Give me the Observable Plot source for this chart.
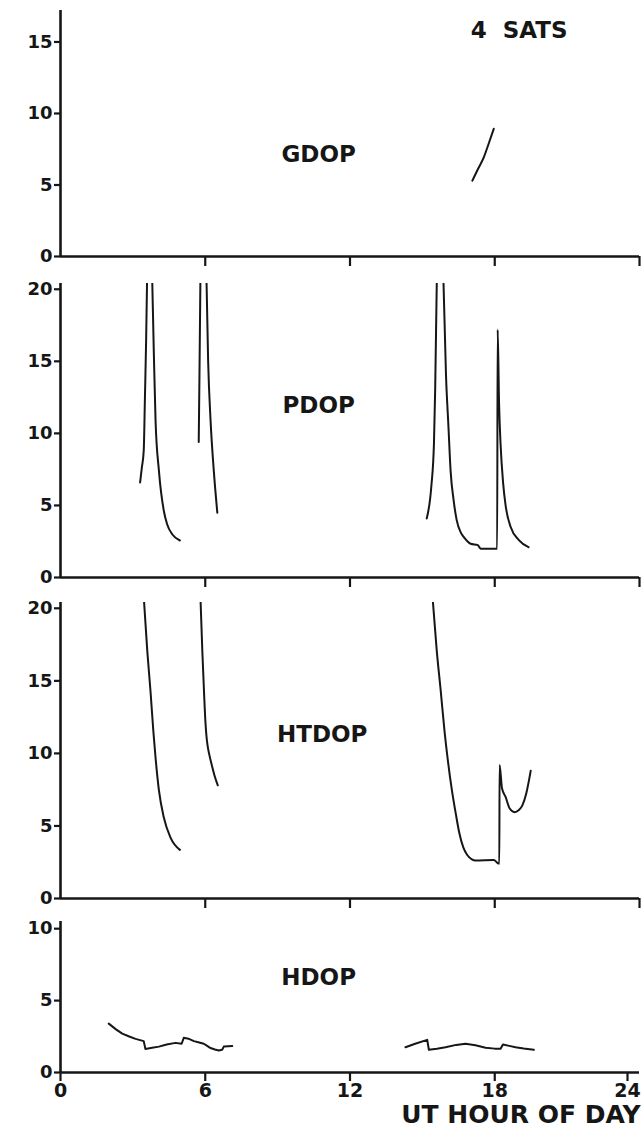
<!DOCTYPE html>
<html><head><meta charset="utf-8">
<script src="https://cdn.jsdelivr.net/npm/d3@7"></script>
<script src="https://cdn.jsdelivr.net/npm/@observablehq/plot@0.6"></script>
<style>
body{margin:0;background:#fff;}
#chart{width:642px;height:1127px;position:relative;overflow:hidden;background:#fff;}
#chart svg{display:block;}
</style></head><body><div id="chart"></div>
<script>
// ---- data (hours UT, DOP values); NaN separates pieces of a curve ----
const xTickHours = [0, 6, 12, 18, 24];

const gdopHour  = [17.07, 17.3, 17.55, 17.75, 17.96];
const gdopValue = [5.3, 6.1, 6.95, 7.9, 8.93];

const pdopHour  = [3.30,3.37,3.45,3.50,3.55,3.59, NaN,
                   3.80,3.87,3.94,4.08,4.28,4.42,4.63,4.95, NaN,
                   5.73,5.76,5.80, NaN,
                   6.05,6.12,6.22,6.35,6.50, NaN,
                   15.18,15.37,15.48,15.53,15.60, NaN,
                   15.87,15.98,16.08,16.17,16.30,16.42,16.60,16.72,17.00,17.30,17.36,17.42,18.10,18.12,18.18,18.24,18.35,18.45,18.66,19.00,19.40];
const pdopValue = [6.6,7.6,8.8,12.5,16.5,20.8, NaN,
                   20.8,15.5,10.9,7.4,4.65,3.7,3.0,2.57, NaN,
                   9.4,14.0,20.8, NaN,
                   20.8,15.0,10.9,7.5,4.5, NaN,
                   4.1,6.3,9.3,13.0,20.8, NaN,
                   20.8,14.0,10.5,7.4,5.3,4.0,3.1,2.8,2.34,2.25,2.1,2.0,2.0,17.2,12.0,9.3,6.5,5.0,3.5,2.6,2.1];

const htdopHour  = [3.45,3.60,3.73,3.85,3.94,4.08,4.28,4.56,4.95, NaN,
                    5.80,5.88,5.95,6.01,6.05,6.10,6.17,6.27,6.38,6.52, NaN,
                    15.42,15.60,15.75,15.92,16.05,16.22,16.40,16.52,16.70,16.86,17.05,17.20,17.96,18.13,18.19,18.20,18.30,18.45,18.62,18.82,19.00,19.14,19.30,19.49];
const htdopValue = [20.8,17.0,14.3,11.5,9.7,7.45,5.6,4.2,3.35, NaN,
                    20.8,17.0,14.2,12.1,11.2,10.5,9.9,9.2,8.5,7.8, NaN,
                    20.8,17.0,14.5,11.5,9.6,7.5,5.7,4.6,3.5,3.0,2.7,2.62,2.66,2.43,2.4,9.2,7.6,7.0,6.2,5.95,6.1,6.4,7.2,8.8];

const hdopHour  = [2.00,2.30,2.56,2.85,3.11,3.45,3.52,3.80,4.08,4.40,4.77,5.02,5.11,5.30,5.53,5.75,5.94,6.08,6.22,6.40,6.56,6.70,6.77,7.12, NaN,
                   14.30,14.70,15.20,15.27,15.60,15.96,16.40,16.79,17.20,17.62,18.00,18.24,18.34,18.60,18.86,19.20,19.62];
const hdopValue = [3.4,3.0,2.7,2.5,2.34,2.18,1.64,1.72,1.8,1.95,2.06,2.0,2.41,2.35,2.18,2.08,2.0,1.85,1.7,1.6,1.53,1.58,1.8,1.85, NaN,
                   1.76,2.0,2.27,1.58,1.65,1.76,1.92,2.0,1.9,1.72,1.66,1.65,1.94,1.85,1.76,1.67,1.58];

const panelNames = ["GDOP", "PDOP", "HTDOP", "HDOP"];
const satsLabel = "4  SATS";
const xTitle = "UT HOUR OF DAY";

// ---- drawing ----
const rows = (h, v) => h.map((x, i) => ({hour: x, value: v[i]}));
const INK = "#161616";
const FONT = "'DejaVu Sans', 'Liberation Sans', Arial, sans-serif";

function panel({data, height, top, bottom, yMax, yTicks, name, nameX, nameY, showXLabels, curve = "monotone-x", extra = []}) {
  const xAxes = showXLabels
    ? [Plot.axisX({ticks: xTickHours.slice(0, -1), tickSize: 9, tickPadding: 2, tickFormat: d => d, fontSize: 19, fontWeight: "bold", strokeWidth: 2.2, label: null}),
       Plot.axisX({ticks: xTickHours.slice(-1), tickSize: 9, tickPadding: 2, tickFormat: d => d, fontSize: 19, fontWeight: "bold", strokeWidth: 2.2, label: null, dx: -12})]
    : [Plot.axisX({ticks: xTickHours.slice(1), tickSize: 10, tickFormat: () => "", strokeWidth: 2.2, label: null})];
  return Plot.plot({
    width: 642, height,
    marginLeft: 60, marginRight: 3, marginTop: top, marginBottom: bottom,
    x: {domain: [0, 24], axis: null},
    y: {domain: [0, yMax], axis: null},
    style: {fontFamily: FONT, fontSize: "18px", color: INK, background: "transparent", overflow: "visible"},
    marks: [
      Plot.line(data, {x: "hour", y: "value", stroke: INK, strokeWidth: 2, curve, clip: true}),
      Plot.ruleX([0], {stroke: INK, strokeWidth: 2.6}),
      Plot.ruleY([0], {stroke: INK, strokeWidth: 2.6}),
      Plot.axisY({ticks: yTicks, tickSize: 6, tickPadding: 2, tickFormat: d => d, fontSize: 18, fontWeight: "bold", strokeWidth: 2.2, label: null}),
      ...xAxes,
      Plot.text([name], {x: () => nameX, y: () => nameY, fontSize: 23, fontWeight: "bold", fill: INK}),
      ...extra
    ]
  });
}

const root = document.getElementById("chart");
root.append(panel({data: rows(gdopHour, gdopValue), height: 270, top: 10, bottom: 14, yMax: 17.2,
  yTicks: [0, 5, 10, 15], name: panelNames[0], nameX: 10.7, nameY: 7.1,
  extra: [Plot.text([satsLabel], {x: () => 17.0, y: () => 15.8, textAnchor: "start", fontSize: 23, fontWeight: "bold", fill: INK, style: "white-space:pre"})]}));
root.append(panel({data: rows(pdopHour, pdopValue), height: 320, top: 13, bottom: 13, yMax: 20.4,
  yTicks: [0, 5, 10, 15, 20], name: panelNames[1], nameX: 10.7, nameY: 11.9}));
root.append(panel({data: rows(htdopHour, htdopValue), height: 320, top: 12, bottom: 12, yMax: 20.4,
  yTicks: [0, 5, 10, 15, 20], name: panelNames[2], nameX: 10.85, nameY: 11.3}));
root.append(panel({data: rows(hdopHour, hdopValue), height: 217, top: 11, bottom: 55, yMax: 10.5,
  yTicks: [0, 5, 10], name: panelNames[3], nameX: 10.7, nameY: 6.6, showXLabels: true, curve: "linear",
  extra: [Plot.text([xTitle], {frameAnchor: "bottom-right", textAnchor: "end", dx: 1, dy: 50, fontSize: 25, fontWeight: "bold", fill: INK})]}));
</script></body></html>
